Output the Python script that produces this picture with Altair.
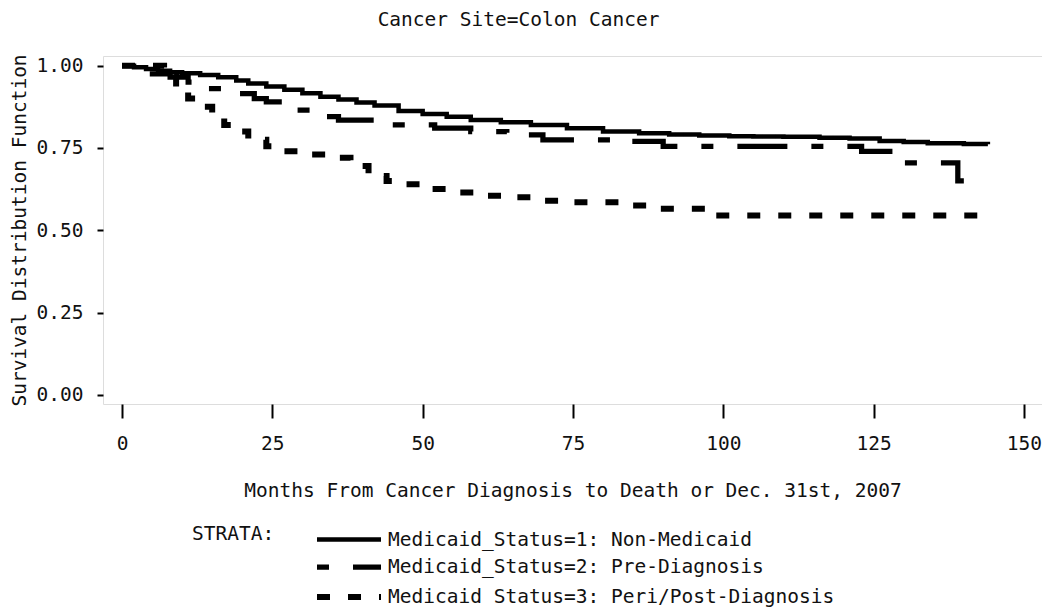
import altair as alt
import pandas as pd

# ---- data (Kaplan-Meier step curves) ----
labels = [
    "Medicaid_Status=1: Non-Medicaid",
    "Medicaid_Status=2: Pre-Diagnosis",
    "Medicaid_Status=3: Peri/Post-Diagnosis",
]

t1 = [0, 2, 4, 6, 8, 10, 13, 16, 19, 21, 24, 27, 30, 33, 36, 39, 42, 46, 50, 54,
      58, 63, 68, 74, 80, 86, 91, 96, 101, 105, 110, 116, 121, 126, 130, 134, 140, 144]
s1 = [1.00, 0.995, 0.99, 0.985, 0.98, 0.977, 0.972, 0.965, 0.955, 0.946, 0.937, 0.927,
      0.916, 0.906, 0.897, 0.888, 0.879, 0.862, 0.853, 0.845, 0.835, 0.828, 0.820, 0.810,
      0.800, 0.795, 0.791, 0.788, 0.786, 0.785, 0.784, 0.781, 0.779, 0.771, 0.768, 0.764,
      0.762, 0.761]

t2 = [0, 2, 4, 8, 11, 14, 19, 22, 24, 28, 32, 36, 45, 52, 58, 64, 70, 82, 90, 120,
      123, 129, 139, 140]
s2 = [1.00, 0.99, 0.975, 0.965, 0.95, 0.93, 0.915, 0.90, 0.89, 0.865, 0.845, 0.835,
      0.82, 0.81, 0.80, 0.79, 0.775, 0.77, 0.755, 0.755, 0.74, 0.705, 0.65, 0.65]

t3 = [0, 7, 9, 11, 13, 15, 17, 19, 21, 24, 27, 30, 34, 38, 41, 44, 47, 50, 55, 60,
      65, 70, 75, 83, 89, 98, 143]
s3 = [1.00, 0.97, 0.93, 0.90, 0.875, 0.85, 0.82, 0.80, 0.775, 0.755, 0.74, 0.73, 0.72,
      0.695, 0.665, 0.65, 0.64, 0.625, 0.615, 0.605, 0.60, 0.59, 0.585, 0.575, 0.565,
      0.545, 0.545]

x_ticks = [0, 25, 50, 75, 100, 125, 150]
y_ticks = [0.0, 0.25, 0.5, 0.75, 1.0]

rows = []
for lab, ts, ss in zip(labels, [t1, t2, t3], [s1, s2, s3]):
    for i, (t, s) in enumerate(zip(ts, ss)):
        rows.append({"month": t, "surv": s, "strata": lab, "order": i})
df = pd.DataFrame(rows)

FONT = "DejaVu Sans Mono"
FS = 19.5
TXT = "#111111"

chart = alt.Chart(df).mark_line(interpolate="step-after", color="black").encode(
    x=alt.X("month:Q",
            scale=alt.Scale(domain=[-3.16, 153.0], nice=False, zero=False),
            axis=alt.Axis(values=x_ticks, title="Months From Cancer Diagnosis to Death or Dec. 31st, 2007",
                          grid=False, domain=False, tickSize=14, tickWidth=2, tickColor="black",
                          labelPadding=16, labelFont=FONT, labelFontSize=FS, labelColor=TXT,
                          titleFont=FONT, titleFontSize=FS, titleFontWeight="normal", titleColor=TXT,
                          titleBaseline="alphabetic", titleY=92, labelFlush=False)),
    y=alt.Y("surv:Q",
            scale=alt.Scale(domain=[-0.028, 1.0295], nice=False, zero=False),
            axis=alt.Axis(values=y_ticks, format=".2f", title="Survival Distribution Function",
                          grid=False, domain=False, tickSize=6, tickWidth=2, tickColor="black",
                          labelPadding=14, labelFont=FONT, labelFontSize=FS, labelColor=TXT,
                          titleFont=FONT, titleFontSize=FS, titleFontWeight="normal", titleColor=TXT,
                          titleAngle=-90, titleBaseline="alphabetic", titleAlign="center",
                          titleX=-78, titleY=174, labelFlush=False)),
    strokeDash=alt.StrokeDash("strata:N",
        scale=alt.Scale(domain=labels, range=[[1, 0], [12, 24, 50, 24], [13, 18]]),
        legend=alt.Legend(title="STRATA:", orient="none", legendX=89, legendY=473,
                          titleOrient="left", titleAnchor="start", titleFont=FONT, titleFontSize=FS,
                          titleFontWeight="normal", titleColor=TXT, titlePadding=63,
                          titleBaseline="line-top", titleLineHeight=10,
                          labelFont=FONT, labelFontSize=FS, labelColor=TXT, labelOffset=28,
                          labelLimit=800,
                          symbolType="M-4,0H4", symbolSize=256, symbolStrokeWidth=5,
                          symbolStrokeColor="black", rowPadding=7)),
    strokeWidth=alt.StrokeWidth("strata:N",
        scale=alt.Scale(domain=labels, range=[4.5, 6, 6]), legend=None),
    order="order:Q",
).properties(
    width=939, height=348,
    title=alt.TitleParams("Cancer Site=Colon Cancer", anchor="middle", dx=-54, offset=8,
                          baseline="alphabetic", font=FONT, fontSize=FS, fontWeight="normal",
                          color=TXT),
    autosize=alt.AutoSizeParams(type="none"),
    padding={"left": 95, "top": 48, "right": 0, "bottom": 203},
).configure_view(stroke="black", strokeWidth=2).configure(background="white")

chart.save("out.html", embed_options={"renderer": "svg", "actions": False})
